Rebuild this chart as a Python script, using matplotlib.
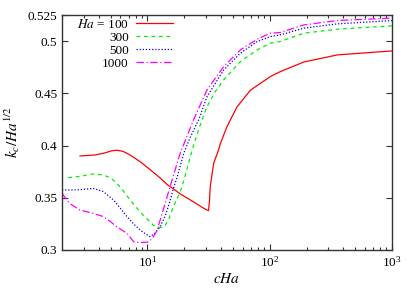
import matplotlib
matplotlib.use("Agg")
import matplotlib.pyplot as plt
from matplotlib.ticker import LogLocator, NullFormatter, FixedLocator

plt.rcParams['font.family'] = ['Liberation Serif', 'DejaVu Serif']
plt.rcParams['mathtext.fontset'] = 'stix'
plt.rcParams['font.size'] = 9

# Ha = 100
x100 = [2.81, 3.2, 3.73, 4.5, 5.1, 5.65, 6.3, 7.2, 8.7, 10.5, 12.7, 14.5, 16.3, 19, 22, 25,
        28.8, 30.7, 31.6, 32.2, 32.6, 34.8, 38.2, 39.5, 44.7, 47.6, 54, 69.5, 101, 122, 190, 357, 1000]
y100 = [0.390, 0.3905, 0.391, 0.393, 0.395, 0.3955, 0.3945, 0.391, 0.3846, 0.377, 0.369, 0.3626,
        0.3585, 0.3529, 0.3485, 0.3445, 0.3400, 0.3383, 0.3377, 0.348, 0.3606, 0.383, 0.396, 0.402,
        0.418, 0.4245, 0.437, 0.453, 0.466, 0.4708, 0.480, 0.4868, 0.4906]
# Ha = 300
x300 = [2.25, 2.8, 3.6, 4.36, 5.0, 5.62, 6.3, 7.2, 8.7, 9.3, 10.5, 11.2, 11.9, 13.0, 13.95, 15,
        16.3, 18.5, 20, 22.4, 25, 27.9, 30.7, 36, 42, 57.5, 79, 101, 122, 190, 357, 1000]
y300 = [0.3693, 0.3705, 0.3728, 0.3718, 0.369, 0.3639, 0.357, 0.348, 0.3365, 0.333, 0.327, 0.3235,
        0.322, 0.3215, 0.3235, 0.330, 0.3415, 0.3555, 0.368, 0.3894, 0.408, 0.4245, 0.4373, 0.452,
        0.4628, 0.4804, 0.4916, 0.498, 0.4996, 0.5076, 0.5114, 0.5146]
# Ha = 500
x500 = [2.0, 2.5, 3.0, 3.6, 4.36, 5.27, 6.0, 6.8, 7.7, 8.7, 9.6, 10.5, 11.5, 12.7, 14, 15.3, 16.3,
        17.5, 19.8, 22.4, 26.2, 30.7, 42, 57.5, 79, 101, 122, 190, 357, 1000]
y500 = [0.3575, 0.3575, 0.358, 0.359, 0.3559, 0.348, 0.340, 0.332, 0.325, 0.3192, 0.3155, 0.3128,
        0.316, 0.3223, 0.333, 0.347, 0.359, 0.370, 0.3926, 0.408, 0.4245, 0.4468, 0.4724, 0.4884,
        0.4996, 0.5043, 0.506, 0.5124, 0.5165, 0.5197]
# Ha = 1000
x1000 = [2.0, 2.3, 2.8, 3.6, 4.36, 5.0, 5.6, 6.8, 7.7, 8.5, 9.9, 10.5, 11.2, 12.0, 12.7, 14.0,
         15.3, 18.5, 23.8, 30.7, 42, 57.5, 79, 101, 122, 190, 357, 1000]
y1000 = [0.3543, 0.3447, 0.3383, 0.3351, 0.332, 0.327, 0.3223, 0.316, 0.308, 0.3072, 0.3074, 0.309,
         0.3128, 0.319, 0.3287, 0.345, 0.3606, 0.3926, 0.4245, 0.4533, 0.4756, 0.4916, 0.5018,
         0.5076, 0.5082, 0.5155, 0.5197, 0.522]

labels = [r'$\it{Ha}$ = 100', '300', '500', '1000']
yticks = [0.3, 0.35, 0.4, 0.45, 0.5, 0.525]
yticklabels = ['0.3', '0.35', '0.4', '0.45', '0.5', '0.525']

fig = plt.figure(figsize=(4.15, 2.91), dpi=100)
ax = fig.add_axes([62/415, 41/291, 330/415, 235/291])

ax.plot(x100, y100, color='#ff0000', lw=0.9, ls='-', label=labels[0])
ax.plot(x300, y300, color='#00ee00', lw=0.9, ls=(0, (3, 3)), label=labels[1])
ax.plot(x500, y500, color='#0000ff', lw=0.9, ls=(0, (1, 1.5)), label=labels[2])
ax.plot(x1000, y1000, color='#ff00ff', lw=0.9, ls=(0, (6, 2, 1, 2)), label=labels[3])

ax.set_xscale('log')
ax.set_xlim(2, 1000)
ax.set_ylim(0.3, 0.525)
ax.yaxis.set_major_locator(FixedLocator(yticks))
ax.set_yticklabels(yticklabels)
ax.xaxis.set_major_locator(LogLocator(base=10, numticks=10))
ax.xaxis.set_minor_locator(LogLocator(base=10, subs=range(2, 10), numticks=20))
ax.xaxis.set_minor_formatter(NullFormatter())

ax.tick_params(which='both', direction='in', top=True, right=True, colors='#333333',
               labelcolor='black', labelsize=9.5)
ax.tick_params(which='major', length=4.5, width=0.8)
ax.tick_params(which='minor', length=2.5, width=0.8)
for s in ax.spines.values():
    s.set_color('#333333')
    s.set_linewidth(1.0)

ax.set_xlabel(r'$\it{cHa}$', fontsize=11, labelpad=2)
ax.set_ylabel(r'$k_c/Ha^{1/2}$', fontsize=11, labelpad=4)

leg = ax.legend(loc='upper right', bbox_to_anchor=(173/415, 1 - 18/291),
                bbox_transform=fig.transFigure, markerfirst=False, frameon=False,
                fontsize=9.5, handlelength=2.8, handletextpad=0.55, labelspacing=0.05,
                borderpad=0, borderaxespad=0)

fig.savefig('out.png', dpi=100)
